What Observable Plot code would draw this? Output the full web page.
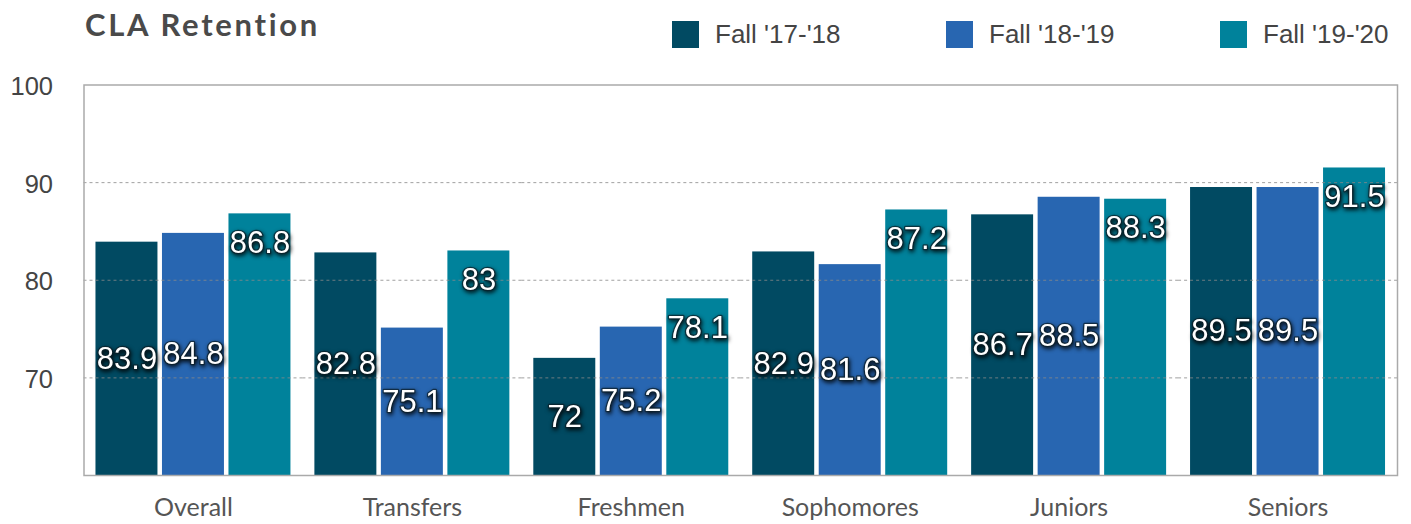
<!DOCTYPE html>
<html>
<head>
<meta charset="utf-8">
<script src="https://cdn.jsdelivr.net/npm/d3@7"></script>
<script src="https://cdn.jsdelivr.net/npm/@observablehq/plot@0.6"></script>
<style>
  html, body { margin: 0; padding: 0; background: #fff; }
  #wrap { position: relative; width: 1411px; height: 524px; overflow: hidden; }
  #title { position: absolute; left: 85px; top: 4px; font-family: Lato, sans-serif; font-weight: 700;
           font-size: 31px; letter-spacing: 2.7px; color: #4a4a4a; line-height: 40px; white-space: nowrap; }
  .leg { position: absolute; top: 21px; height: 27px; display: flex; align-items: center; white-space: nowrap;
         font-family: "Liberation Sans", Arial, sans-serif; font-size: 26px; color: #444; }
  .leg .sw { width: 27px; height: 27px; margin-right: 16px; }
  #chart { position: absolute; left: 0; top: 60px; }
  .vlabel text { filter: drop-shadow(1px 2px 2px rgba(0,0,0,0.95)); }
</style>
</head>
<body>
<div id="wrap">
  <div id="title">CLA Retention</div>
  <div id="legend"></div>
  <div id="chart"></div>
</div>
<script>
const titleText = "CLA Retention";
const categories = ["Overall", "Transfers", "Freshmen", "Sophomores", "Juniors", "Seniors"];
const series = ["Fall '17-'18", "Fall '18-'19", "Fall '19-'20"];
const fall1718 = [83.9, 82.8, 72, 82.9, 86.7, 89.5];
const fall1819 = [84.8, 75.1, 75.2, 81.6, 88.5, 89.5];
const fall1920 = [86.8, 83, 78.1, 87.2, 88.3, 91.5];
const colors = ["#014a62", "#2866b1", "#00829b"];
const yTicks = [70, 80, 90, 100];
const gridTicks = [70, 80, 90];
const yMin = 60, yMax = 100;

const seriesValues = [fall1718, fall1819, fall1920];
const rows = categories.flatMap((c, i) => series.map((s, j) => ({category: c, series: s, value: seriesValues[j][i]})));

// legend
const legendLeft = [672, 946, 1220];
const legend = document.getElementById("legend");
series.forEach((s, j) => {
  const item = document.createElement("div");
  item.className = "leg";
  item.style.left = legendLeft[j] + "px";
  const sw = document.createElement("div");
  sw.className = "sw";
  sw.style.background = colors[j];
  const t = document.createElement("span");
  t.textContent = s;
  item.appendChild(sw); item.appendChild(t);
  legend.appendChild(item);
});

const labelFont = {fontFamily: "Liberation Sans, Arial, sans-serif", fontSize: 31, fill: "white", stroke: "#0b1e26", strokeWidth: 2.6, strokeOpacity: 0.7, className: "vlabel"};

const chart = Plot.plot({
  width: 1411,
  height: 464,
  marginLeft: 83.5,
  marginRight: 14,
  marginTop: 24.5,
  marginBottom: 49,
  style: {fontFamily: "Liberation Sans, Arial, sans-serif", fontSize: "24px", color: "#444", background: "white"},
  fx: {domain: categories, paddingInner: 0, paddingOuter: 0, round: false, label: null},
  x: {domain: series, paddingInner: 0.068, paddingOuter: 0.18, round: false, axis: null},
  y: {domain: [yMin, yMax], label: null},
  color: {domain: series, range: colors},
  marks: [
    Plot.barY(rows, {fx: "category", x: "series", y1: yMin, y2: "value", fill: "series"}),
    Plot.ruleY(gridTicks, {stroke: "#888", strokeOpacity: 0.8, strokeWidth: 1, strokeDasharray: "3,3"}),
    Plot.frame({facet: "super", stroke: "#aaa", strokeWidth: 1.5}),
    Plot.axisY(yTicks, {tickSize: 0, tickPadding: 31, dy: 2, label: null, fontSize: 25.5, color: "#444"}),
    Plot.axisFx({anchor: "bottom", tickSize: 0, tickPadding: 23, label: null, fontFamily: "Lato, sans-serif", fontSize: 25, color: "#555"}),
    Plot.text(rows.filter(d => d.series !== series[2]), {fx: "category", x: "series", y: d => (yMin + d.value) / 2, text: d => String(d.value), ...labelFont}),
    Plot.text(rows.filter(d => d.series === series[2]), {fx: "category", x: "series", y: "value", dy: 29, text: d => String(d.value), ...labelFont})
  ]
});
document.getElementById("chart").appendChild(chart);
</script>
</body>
</html>
